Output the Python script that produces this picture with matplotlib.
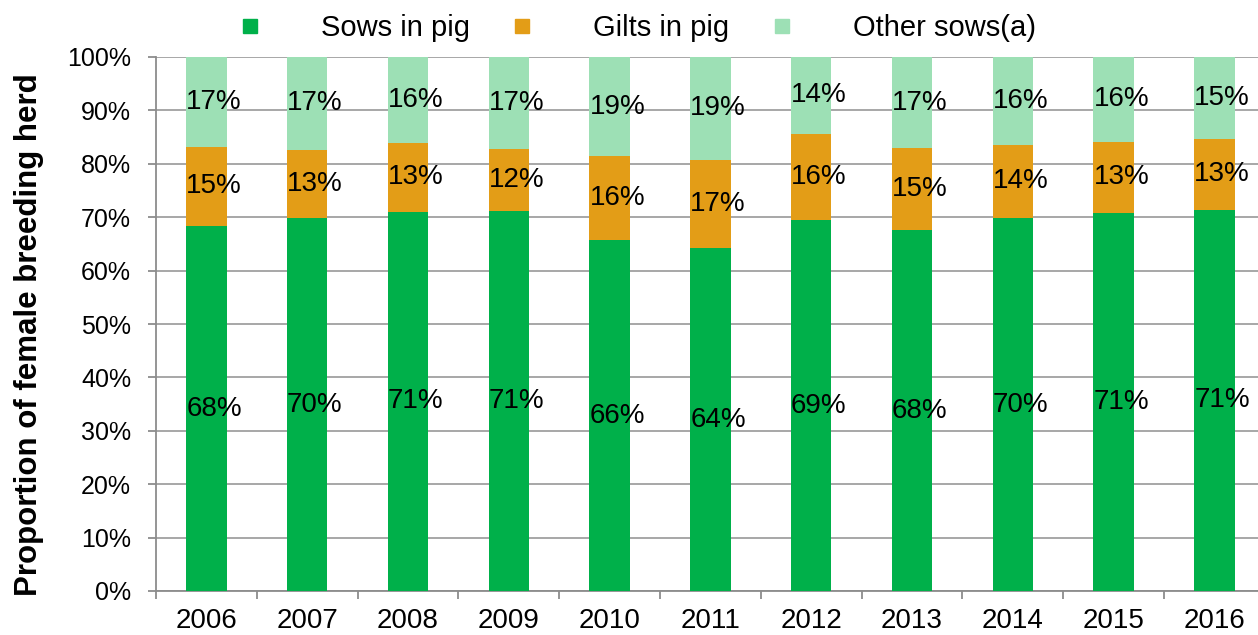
import numpy as np
import matplotlib.pyplot as plt
from matplotlib.lines import Line2D
from matplotlib.ticker import FixedLocator

plt.rcParams['font.family'] = ['Liberation Sans', 'DejaVu Sans']

# Data (percent of female breeding herd)
years = ["2006", "2007", "2008", "2009", "2010", "2011", "2012", "2013", "2014", "2015", "2016"]
sows_in_pig = [68.3, 69.8, 71.0, 71.2, 65.7, 64.2, 69.4, 67.6, 69.8, 70.8, 71.4]
gilts_in_pig = [14.9, 12.8, 12.9, 11.6, 15.7, 16.6, 16.2, 15.3, 13.8, 13.3, 13.2]
other_sows = [100 - s - g for s, g in zip(sows_in_pig, gilts_in_pig)]

series_names = ["Sows in pig", "Gilts in pig", "Other sows(a)"]
colors = ["#00B04A", "#E39D17", "#9DE0B5"]

fig = plt.figure(figsize=(12.58, 6.35), dpi=100)
ax = fig.add_axes([156 / 1258, 44 / 635, 1 - 156 / 1258, (591 - 57) / 635])

x = np.arange(len(years))
width = 0.4
bottom = np.zeros(len(years))
for name, vals, col in zip(series_names, [sows_in_pig, gilts_in_pig, other_sows], colors):
    vals = np.array(vals)
    ax.bar(x, vals, width, bottom=bottom, color=col, label=name, zorder=3, linewidth=0)
    # labels start at the bar's left edge, centred vertically in the segment
    for xi, b, v in zip(x, bottom, vals):
        ax.text(xi - width / 2, b + v / 2, f"{round(v):.0f}%", ha="left", va="center",
                fontsize=20, color="black", zorder=4)
    bottom += vals

ax.set_ylim(0, 100)
ax.set_xlim(-0.5, (1258 - 156) / 100.8 - 0.5)
ax.set_yticks(range(0, 101, 10))
ax.set_yticklabels([f"{v}%" for v in range(0, 101, 10)])
ax.set_xticks(x)
ax.set_xticklabels(years)
ax.xaxis.set_minor_locator(FixedLocator(np.arange(-0.5, len(years), 1.0)))

ax.grid(axis="y", color="#A0A0A0", linewidth=1.3, zorder=0)
for side in ["top", "right"]:
    ax.spines[side].set_visible(False)
for side in ["left", "bottom"]:
    ax.spines[side].set_color("#8C8C8C")
    ax.spines[side].set_linewidth(1.3)
ax.tick_params(axis="y", length=6, width=1.3, color="#8C8C8C", labelsize=18, pad=12)
ax.tick_params(axis="x", which="major", length=0, labelsize=20, pad=12)
ax.tick_params(axis="x", which="minor", length=6, width=1.3, color="#8C8C8C")

fig.text(29 / 1258, 1 - 335 / 635, "Proportion of female breeding herd", rotation=90,
         ha="center", va="center", fontsize=22.5, fontweight="bold")

handles = [Line2D([], [], marker="s", linestyle="none", markersize=10.5,
                  markerfacecolor=c, markeredgecolor=c) for c in colors]
fig.legend(handles, series_names, loc="center left", bbox_to_anchor=(235.5 / 1258, 1 - 28 / 635),
           ncol=3, frameon=False, fontsize=21, handlelength=1.0, handletextpad=1.93,
           columnspacing=1.3, borderpad=0, borderaxespad=0)

fig.savefig("out.png", dpi=100)
